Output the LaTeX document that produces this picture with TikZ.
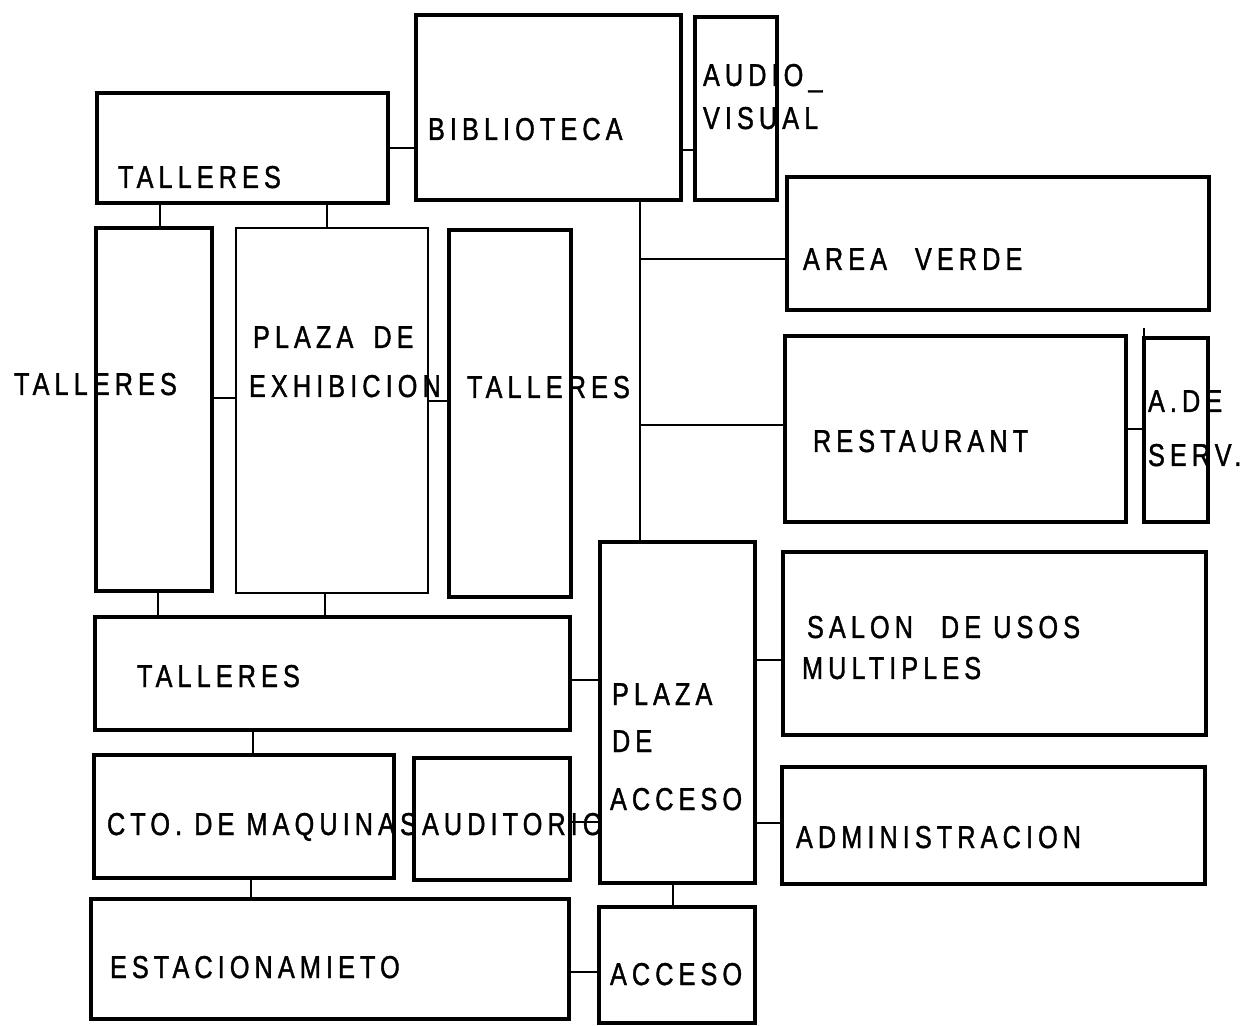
\documentclass[tikz,border=0pt]{standalone}
\usepackage{fontspec}
\usepackage{xcolor}
\usetikzlibrary{
    positioning, % For placing nodes relative to each other
    calc         % For coordinate arithmetic
}
% Narrow, letter-spaced sans to imitate the stencil lettering of the plan
\newfontfamily\planfont{Liberation Sans}[FakeStretch=0.8, LetterSpace=16, FakeBold=1.2]

\begin{document}
\begin{tikzpicture}[
    % One unit is one pixel of the drawing sheet, y runs downwards
    x=0.02cm, y=-0.02cm,
    % Default lettering for all labels
    font=\planfont\fontsize{18}{22}\selectfont,
]
    % --- Define TikZ styles for diagram elements ---
    \tikzset{
        % Style for the rooms (thick outlined rectangles)
        room/.style={
            shape=rectangle,
            draw=black,
            line width=2.2pt,
            inner sep=0pt,
            outer sep=0pt,
        },
        % Plaza de exhibicion has a thinner outline
        thinroom/.style={
            room,
            line width=1.1pt,
        },
        % Size of a room in sheet pixels: width, height
        dims/.style 2 args={
            minimum width=#1*0.02cm,
            minimum height=#2*0.02cm,
        },
        % Style for the links between rooms
        link/.style={
            draw,
            line width=1.1pt,
        },
        % Style for the room names, placed by their baseline
        lettering/.style={
            anchor=base west,
            inner sep=0pt,
            outer sep=0pt,
        },
    }

    % fix the sheet size
    \useasboundingbox (0,0) rectangle (1244,1026);

    % --- Place the rooms ---

    % 1. Top row
    \node[room, dims={291}{110}] (talA)   at (242.5,148)   {};
    \node[room, dims={265}{185}] (bib)    at (548.5,107.5) {};
    \node[room, dims={82}{183}]  (audio)  at (736,108.5)   {};

    % 2. Right column
    \node[room, dims={422}{133}] (verde)  at (998,243.5)   {};
    \node[room, dims={341}{186}] (rest)   at (955.5,429)   {};
    \node[room, dims={64}{184}]  (serv)   at (1176,430)    {};
    \node[room, dims={423}{183}] (salon)  at (994.5,643.5) {};
    \node[room, dims={423}{117}] (admin)  at (993.5,825.5) {};

    % 3. Workshops around the exhibition plaza
    \node[room, dims={116}{363}]     (talB)    at (154,409.5) {};
    \node[thinroom, dims={192}{365}] (plazaEx) at (332,410.5) {};
    \node[room, dims={122}{367}]     (talC)    at (510,413.5) {};
    \node[room, dims={475}{113}]     (talD)    at (332.5,673.5) {};

    % 4. Bottom part
    \node[room, dims={155}{341}] (plazaAc) at (677.5,712.5) {};
    \node[room, dims={300}{123}] (cto)     at (244,816.5)   {};
    \node[room, dims={156}{122}] (audit)   at (492,819)     {};
    \node[room, dims={478}{120}] (estac)   at (330,959)     {};
    \node[room, dims={156}{116}] (acceso)  at (677,965)     {};

    % --- Room names ---
    \node[lettering] (tTalA)   at (118,188) {TALLERES};
    \node[lettering] (tBib)    at (428,140) {BIBLIOTECA};
    \node[lettering] (tAud1)   at (703,86)  {AUDIO\_};
    \node[lettering] (tAud2)   at (703,129) {VISUAL};
    \node[lettering] (tVerde)  at (803,270) {AREA\hspace{0.5em} VERDE};
    \node[lettering] (tRest)   at (813,452) {RESTAURANT};
    \node[lettering] (tServ1)  at (1148,412) {A.DE};
    \node[lettering] (tServ2)  at (1148,466) {SERV.};
    \node[lettering] (tTalB)   at (14,395)  {TALLERES};
    \node[lettering] (tEx1)    at (253,348) {PLAZA\hspace{0.25em} DE};
    \node[lettering] (tEx2)    at (249,397) {EXHIBICION};
    \node[lettering] (tTalC)   at (467,398) {TALLERES};
    \node[lettering] (tTalD)   at (137,687) {TALLERES};
    \node[lettering] (tAc1)    at (612,705) {PLAZA};
    \node[lettering] (tAc2)    at (612,752) {DE};
    \node[lettering] (tAc3)    at (610,810) {ACCESO};
    \node[lettering] (tSalon1) at (807,638) {SALON\hspace{0.5em} DE USOS};
    \node[lettering] (tSalon2) at (802,679) {MULTIPLES};
    \node[lettering] (tAdmin)  at (796,848) {ADMINISTRACION};
    \node[lettering] (tCto)    at (107,835) {CTO. DE MAQUINAS};
    \node[lettering] (tAudit)  at (422,835) {AUDITORIO};
    \node[lettering] (tEstac)  at (110,978) {ESTACIONAMIETO};
    \node[lettering] (tAcceso) at (610,985) {ACCESO};

    % --- Links between rooms ---
    \coordinate (spine) at (640,0);

    % top row
    \draw[link] (talA.east) -- (talA.east -| bib.west);
    \draw[link] (bib.east |- 0,150) -- (audio.west |- 0,150);

    % spine from the library down to the access plaza
    \draw[link] (bib.south -| spine) -- (plazaAc.north -| spine);
    \draw[link] (spine |- 0,259) -- (verde.west |- 0,259);
    \draw[link] (spine |- 0,425) -- (rest.west |- 0,425);
    \draw[link] (rest.east) -- (rest.east -| serv.west);
    \draw[link] (serv.north west) -- ++(0,-10);

    % workshops
    \draw[link] (talA.south -| 160,0) -- (talB.north -| 160,0);
    \draw[link] (talA.south -| 327,0) -- (plazaEx.north -| 327,0);
    \draw[link] (talB.east |- 0,398) -- (plazaEx.west |- 0,398);
    \draw[link] (plazaEx.east |- 0,401) -- (talC.west |- 0,401);
    \draw[link] (talB.south -| 158,0) -- (talD.north -| 158,0);
    \draw[link] (plazaEx.south -| 325,0) -- (talD.north -| 325,0);
    \draw[link] (talD.east |- 0,680) -- (plazaAc.west |- 0,680);

    % access plaza
    \draw[link] (plazaAc.east |- 0,660) -- (salon.west |- 0,660);
    \draw[link] (plazaAc.east |- 0,823) -- (admin.west |- 0,823);
    \draw[link] (audit.east |- 0,822) -- (plazaAc.west |- 0,822);
    \draw[link] (plazaAc.south -| 673,0) -- (acceso.north -| 673,0);

    % bottom left
    \draw[link] (talD.south -| 253,0) -- (cto.north -| 253,0);
    \draw[link] (cto.south -| 251,0) -- (estac.north -| 251,0);
    \draw[link] (estac.east |- 0,972) -- (acceso.west |- 0,972);

\end{tikzpicture}
\end{document}
